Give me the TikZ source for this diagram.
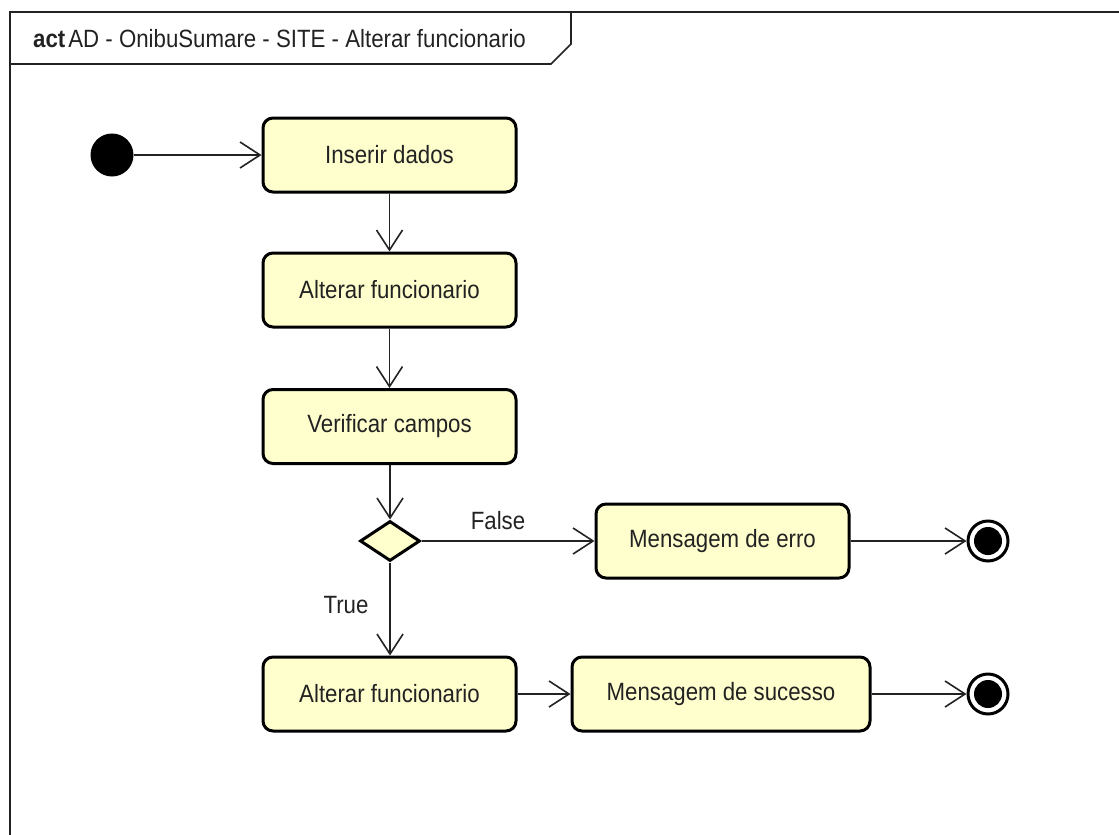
\documentclass[tikz,border=0pt]{standalone}
\usepackage{fontspec}
\setmainfont{Liberation Sans}[FakeStretch=0.89]
\usetikzlibrary{arrows.meta,shapes.geometric}
\definecolor{actfill}{RGB}{255,255,206}
\definecolor{ink}{RGB}{34,34,34}
\begin{document}
\begin{tikzpicture}[x=1pt,y=-1pt,
  every node/.style={font=\fontsize{25}{30}\selectfont, text=ink},
  action/.style={draw=black, line width=3pt, fill=actfill, rounded corners=10pt,
    minimum width=253pt, minimum height=74pt, inner sep=0pt},
  decision/.style={diamond, draw=black, line width=3pt, fill=actfill,
    minimum width=60pt, minimum height=40pt, inner sep=0pt},
  startnode/.style={circle, fill=black, minimum size=43pt, inner sep=0pt},
  endnode/.style={circle, draw=black, line width=3pt, fill=white,
    minimum size=40pt, inner sep=0pt,
    path picture={\fill[black] (path picture bounding box.center) circle (14pt);}},
  flow/.style={draw=ink, line width=1.6pt, -{Straight Barb[length=20pt,width=26pt,line width=1.6pt]}},
  guard/.style={inner sep=0pt}
]
\useasboundingbox (0,0) rectangle (1119,835);

% diagram frame and its name tab
\draw[draw=ink, line width=2pt] (10,835) -- (10,12) -- (1125,12);
\draw[draw=ink, line width=1.6pt] (10,64) -- (551,64) -- (571,44) -- (571,12);
\node[anchor=west, inner sep=0pt] (title) at (33,39)
  {\textbf{act}\hspace{3pt}AD - OnibuSumare - SITE - Alterar funcionario};

% nodes
\node[startnode] (start) at (112,155) {};
\node[action] (ins) at (389.5,155) {\raisebox{-2pt}{Inserir dados}};
\node[action] (alt1) at (389.5,290) {\raisebox{-2pt}{Alterar funcionario}};
\node[action] (ver) at (389.5,426.5) {\raisebox{-2pt}{Verificar campos}};
\node[decision] (dec) at (390,541) {};
\node[action] (err) at (722.5,541) {\raisebox{-2pt}{Mensagem de erro}};
\node[endnode] (fin1) at (988,541) {};
\node[action] (alt2) at (389.5,694) {\raisebox{-2pt}{Alterar funcionario}};
\node[action, minimum width=298pt] (suc) at (721,694) {\raisebox{-2pt}{Mensagem de sucesso}};
\node[endnode] (fin2) at (988,694) {};

% control flows
\draw[flow] (start) -- (ins);
\draw[flow] (ins) -- (alt1);
\draw[flow] (alt1) -- (ver);
\draw[flow] (ver.south -| dec.north) -- (dec.north);
\draw[flow] (dec.east) -- (err.west);
\draw[flow] (dec.south) -- (alt2.north -| dec.south);
\draw[flow] (alt2) -- (suc);
\draw[flow] (err) -- (fin1);
\draw[flow] (suc) -- (fin2);

% guards
\node[guard] (lfalse) at (498,521) {False};
\node[guard] (ltrue) at (346,605) {True};
\end{tikzpicture}
\end{document}
